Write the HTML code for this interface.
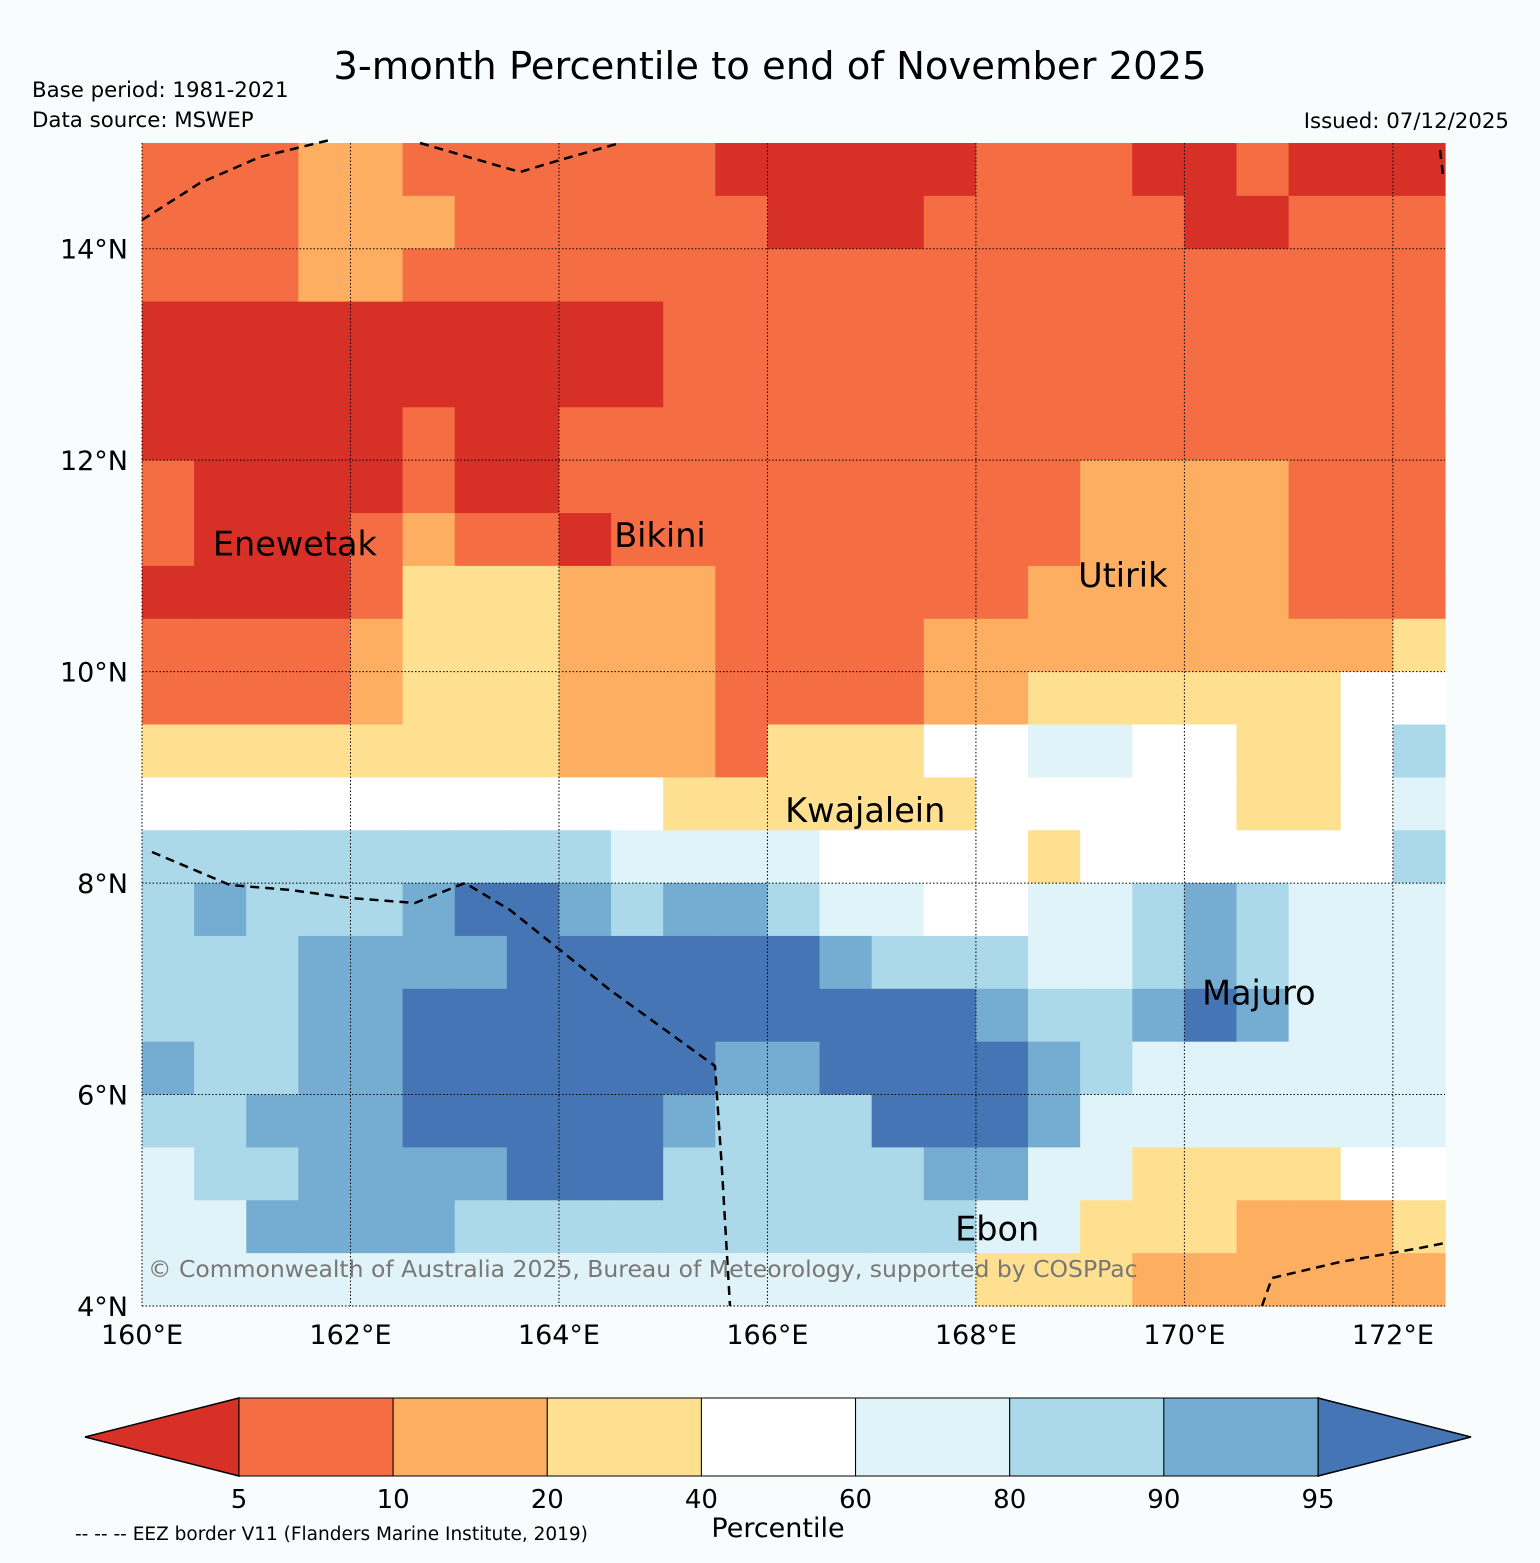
<!DOCTYPE html>
<html><head><meta charset="utf-8">
<style>
body{margin:0;background:#f8fcfd;font-family:"Liberation Sans","DejaVu Sans",sans-serif;}
svg{display:block}
</style></head>
<body>
<svg width="1540" height="1563" xmlns="http://www.w3.org/2000/svg" font-family="DejaVu Sans, Liberation Sans, sans-serif">
<rect width="1540" height="1563" fill="#f8fcfd"/>
<text x="770" y="79" font-size="38.5" text-anchor="middle">3-month Percentile to end of November 2025</text>
<text x="32" y="97" font-size="21.3">Base period: 1981-2021</text>
<text x="32" y="127" font-size="21.3">Data source: MSWEP</text>
<text x="1509" y="128" font-size="21.3" text-anchor="end">Issued: 07/12/2025</text>
<g id="map"></g>
<g id="cbar"></g>
<text x="778" y="1537" font-size="27" text-anchor="middle">Percentile</text>
<text x="75" y="1540" font-size="18.5">-- -- -- EEZ border V11 (Flanders Marine Institute, 2019)</text>
</svg>
<script>
const colors=["#d73027","#f46d43","#fdae61","#fee090","#ffffff","#e0f3f8","#abd9e9","#74add1","#4575b4"];
const cbTicks=["5","10","20","40","60","80","90","95"];
const lonTicks=[160,162,164,166,168,170,172];
const latTicks=[4,6,8,10,12,14];
const gridRows=[
"1112211111100000111001000",
"1112221111110001111100111",
"1112211111111111111111111",
"0000000000111111111111111",
"0000000000111111111111111",
"0000010011111111111111111",
"1000010011111111112222111",
"1000121101111111112222111",
"0000133322211111122222111",
"1111233322211112222222223",
"1111233322211112233333344",
"3333333322213334455443346",
"4444444444333333444443345",
"6666666665555444434444446",
"6766678876776554455676555",
"6667777888888766655676555",
"6667788888888888766787555",
"7667788888877888876555555",
"6677788888766688875555555",
"5667777888666667755333344",
"5577776666666666553332223",
"5555555555555555333222222"
];
const islandNames=["Enewetak","Bikini","Utirik","Kwajalein","Majuro","Ebon"];
const islandLon=[160.68,164.53,168.98,166.17,170.17,167.8];
const islandLat=[11.1,11.18,10.8,8.58,6.85,4.62];

const NS="http://www.w3.org/2000/svg";
const x0=142,x1=1445,y0=143,y1=1306;
function xs(lon){return x0+(lon-160)*(x1-x0)/12.5;}
function ys(lat){return y1-(lat-4)*(y1-y0)/11;}
function mk(tag,attrs,parent){const e=document.createElementNS(NS,tag);for(const k in attrs)e.setAttribute(k,attrs[k]);parent.appendChild(e);return e;}
const map=document.getElementById('map');
const step=0.5;
gridRows.forEach((row,r)=>{
  for(let c=0;c<row.length;c++){
    const lon=160+c*step, lat=15-r*step;
    const xa=xs(lon), xb=xs(lon+step), ya=Math.max(ys(lat),y0), yb=ys(lat-step);
    const el=mk('rect',{x:xa,y:ya,width:xb-xa+0.6,height:yb-ya+0.6,fill:colors[+row[c]]},map);
    
    
  }
});
lonTicks.forEach(l=>{
  const g=mk('line',{x1:xs(l),x2:xs(l),y1:y0,y2:y1,stroke:'#000','stroke-width':1,'stroke-dasharray':'1.5,2'},map);
  
  
  const t=mk('text',{x:xs(l),y:1344,'font-size':27,'text-anchor':'middle'},map);
  t.textContent=l+'°E';
  
  
});
latTicks.forEach(l=>{
  const g=mk('line',{x1:x0,x2:x1,y1:ys(l),y2:ys(l),stroke:'#000','stroke-width':1,'stroke-dasharray':'1.5,2'},map);
  
  
  const t=mk('text',{x:128,y:ys(l)+10,'font-size':27,'text-anchor':'end'},map);
  t.textContent=l+'°N';
  
  
});
const eez=[
"142,220 200,183 260,157 330,140",
"420,143 520,172 560,160 620,143",
"152,852 230,885 290,890 350,898 415,903 465,883 510,910 610,990 715,1066 722,1170 730,1306",
"1262,1306 1272,1278 1340,1262 1420,1248 1445,1243",
"1440,150 1443,175"
];
eez.forEach(p=>{
  const e=mk('polyline',{points:p,fill:'none',stroke:'#000','stroke-width':2.5,'stroke-dasharray':'9,6'},map);
  
  
});
islandNames.forEach((n,i)=>{
  const t=mk('text',{x:xs(islandLon[i]),y:ys(islandLat[i]),'font-size':33.5},map);
  t.textContent=n;
  
  
});
const cp=mk('text',{x:148,y:1277,'font-size':23.5,fill:'#777'},map);
cp.textContent='© Commonwealth of Australia 2025, Bureau of Meteorology, supported by COSPPac';


const cb=document.getElementById('cbar');
const cbx0=239,cbx1=1318,cby0=1398,cby1=1476,seg=(cbx1-cbx0)/7;
const lt=mk('polygon',{points:`${cbx0},${cby0} 85,1437 ${cbx0},${cby1}`,fill:colors[0],stroke:'#000','stroke-width':1.5},cb);


const rt=mk('polygon',{points:`${cbx1},${cby0} 1471,1437 ${cbx1},${cby1}`,fill:colors[8],stroke:'#000','stroke-width':1.5},cb);


for(let i=0;i<7;i++){
  const r=mk('rect',{x:cbx0+i*seg,y:cby0,width:seg,height:cby1-cby0,fill:colors[i+1],stroke:'#000','stroke-width':1},cb);
  
  
}
cbTicks.forEach((t,i)=>{
  const e=mk('text',{x:cbx0+i*seg,y:1508,'font-size':26,'text-anchor':'middle'},cb);
  e.textContent=t;
  
  
});
</script>
</body></html>
